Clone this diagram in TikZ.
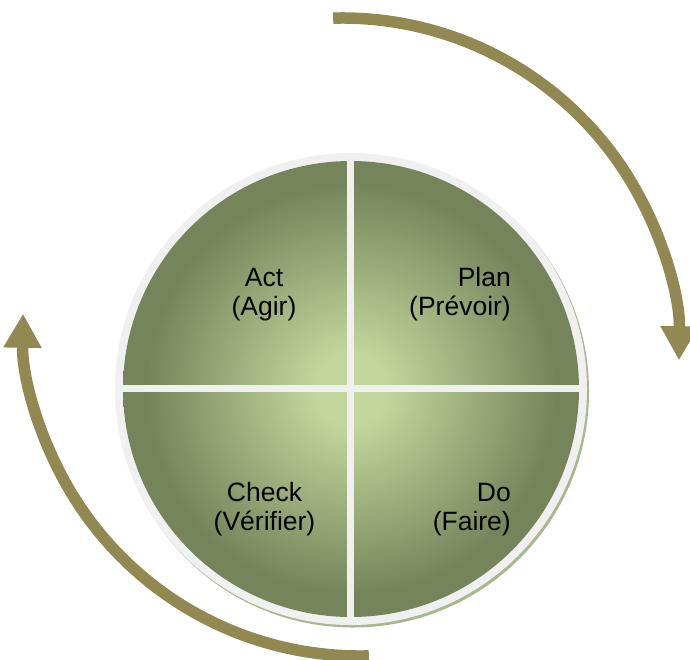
\documentclass[tikz,border=0pt]{standalone}
\usepackage{fontspec}
\setmainfont{Liberation Sans}
\usetikzlibrary{arrows.meta}
\definecolor{pdcain}{HTML}{C2D69B}
\definecolor{pdcaout}{HTML}{76845B}
\definecolor{pdcarim}{HTML}{F0F0F0}
\definecolor{pdcashadow}{HTML}{A9B78F}
\definecolor{pdcaarrow}{HTML}{918852}
\pgfdeclareradialshading{pdcashade}{\pgfpointorigin}{color(0bp)=(pdcain); color(4bp)=(pdcain); color(22.5bp)=(pdcaout); color(25bp)=(pdcaout); color(50bp)=(pdcaout)}
\tikzset{
  cyclearrow/.style={draw=pdcaarrow, line width=11.5pt, line cap=butt, -{Triangle[length=34pt,width=36pt]}},
  divider/.style={draw=pdcarim, line width=7pt},
  phase/.style={font=\fontsize{26.5}{29.5}\selectfont, inner sep=0pt, text=black},
}
\begin{document}
\begin{tikzpicture}[x=1pt,y=-1pt]
\useasboundingbox (0,0) rectangle (690,659);
% circle
\coordinate (c) at (351,389);
\fill[pdcashadow] (353,391.5) circle[radius=236];
\fill[pdcarim] (c) circle[radius=236];
\shade[shading=pdcashade] (c) circle[radius=228];
\coordinate (vt) at (350.5,155);
\coordinate (vb) at (350.5,623);
\coordinate (hl) at (117,388.5);
\coordinate (hr) at (585,388.5);
\draw[divider] (vt) -- (vb);
\draw[divider] (hl) -- (hr);
% labels (base anchor = baseline of the last line)
\node[phase, anchor=base, align=center] (act) at (264,315.5) {Act\\(Agir)};
\node[phase, anchor=base east, align=right] (plan) at (511,315.5) {Plan\\(Prévoir)};
\node[phase, anchor=base, align=center] (check) at (264.5,530.5) {Check\\(Vérifier)};
\node[phase, anchor=base east, align=right] (do) at (511,530.5) {Do\\(Faire)};
% cycle arrows
\coordinate (ts) at (333.2,18.1);
\coordinate (bs) at (368.8,655.9);
\draw[cyclearrow] (ts) arc[start angle=-91.5, end angle=0.9, radius=337];
\draw[cyclearrow] (bs) arc[start angle=88.5, end angle=180.9, radius=337];
\end{tikzpicture}
\end{document}
